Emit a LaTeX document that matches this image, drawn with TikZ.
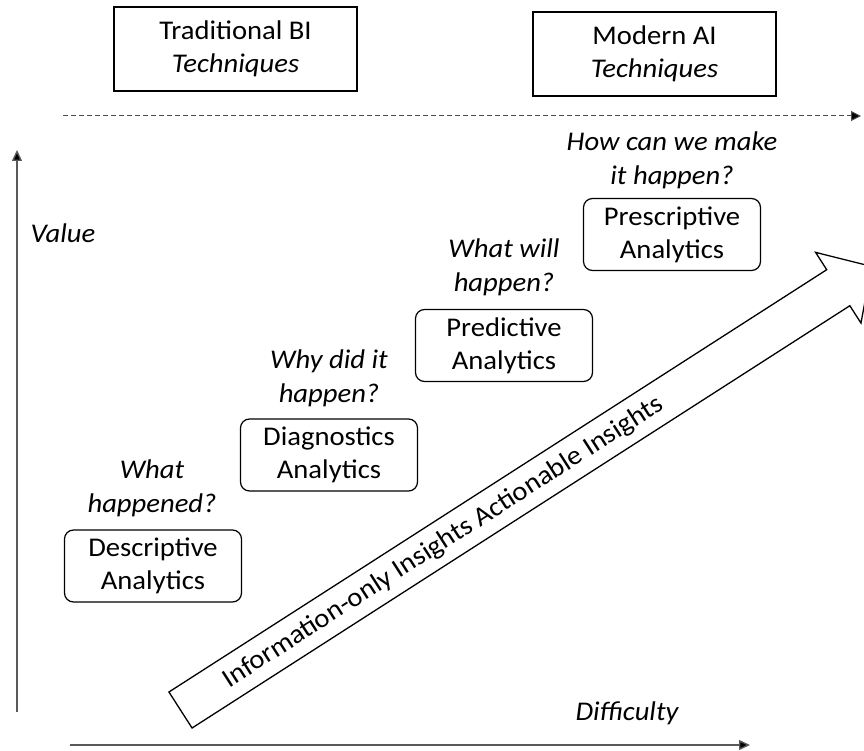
\documentclass[tikz,border=0pt]{standalone}
\usepackage{fontspec}
\setmainfont{Carlito}[FakeStretch=1.06]
\usetikzlibrary{arrows.meta}
\begin{document}
\begin{tikzpicture}[x=1pt,y=-1pt,
  txt/.style={font=\fontsize{27}{33}\selectfont, align=center, inner sep=0pt},
  q/.style={align=center, inner sep=0pt, font=\fontsize{27}{34}\selectfont\itshape},
  techbox/.style={txt, draw, line width=1.2pt, minimum width=243pt, minimum height=84pt},
  anbox/.style={txt, draw, rounded corners=9pt, line width=1.2pt, minimum width=177pt, minimum height=72pt},
  axis/.style={line width=1.4pt, draw=black!65, -{Triangle[length=11pt,width=10pt,fill=black]}},
  dashaxis/.style={line width=1pt, draw=black!70, dash pattern=on 5pt off 3pt, -{Triangle[length=10pt,width=10pt,fill=black]}},
  bigarrow/.style={draw, line width=1.3pt, fill=white}
]
\useasboundingbox (0,0) rectangle (864,751);
\clip (0,0) rectangle (864,751);

% technique boxes
\node[techbox] (bi) at (235.5,49) {Traditional BI\\\textit{Techniques}};
\node[techbox] (ai) at (654.5,54) {Modern AI\\\textit{Techniques}};

% axes
\coordinate (dl) at (63,116);
\coordinate (dr) at (861,116);
\draw[dashaxis] (dl) -- (dr);
\coordinate (vb) at (17,712);
\coordinate (vt) at (17,150);
\draw[axis] (vb) -- (vt);
\coordinate (hl) at (70,745);
\coordinate (hr) at (750,745);
\draw[axis] (hl) -- (hr);
\node[q] (value) at (63,233) {Value};
\node[q] (diff) at (627,713) {Difficulty};

% analytics boxes
\node[anbox] (desc) at (153,566) {Descriptive\\Analytics};
\node[anbox] (diag) at (329,455) {Diagnostics\\Analytics};
\node[anbox] (pred) at (504,345.5) {Predictive\\Analytics};
\node[anbox] (pres) at (672,234.5) {Prescriptive\\Analytics};

% questions
\node[q] (q1) at (152,488) {What\\happened?};
\node[q] (q2) at (329,378) {Why did it\\happen?};
\node[q] (q3) at (504,267) {What will\\happen?};
\node[q] (q4) at (672,160) {How can we make\\it happen?};

% big arrow
\begin{scope}[shift={(180.5,710)}, rotate=32.7]
  \draw[bigarrow] (0,-21.4) -- (781.7,-21.4) -- (781.7,-42) -- (821.2,0) -- (781.7,42) -- (781.7,21.4) -- (0,21.4) -- cycle;
  \coordinate (tc) at (312,1);
\end{scope}
\node[txt, rotate=32.7] (arrtxt) at (tc) {Information-only Insights Actionable Insights};
\end{tikzpicture}
\end{document}
